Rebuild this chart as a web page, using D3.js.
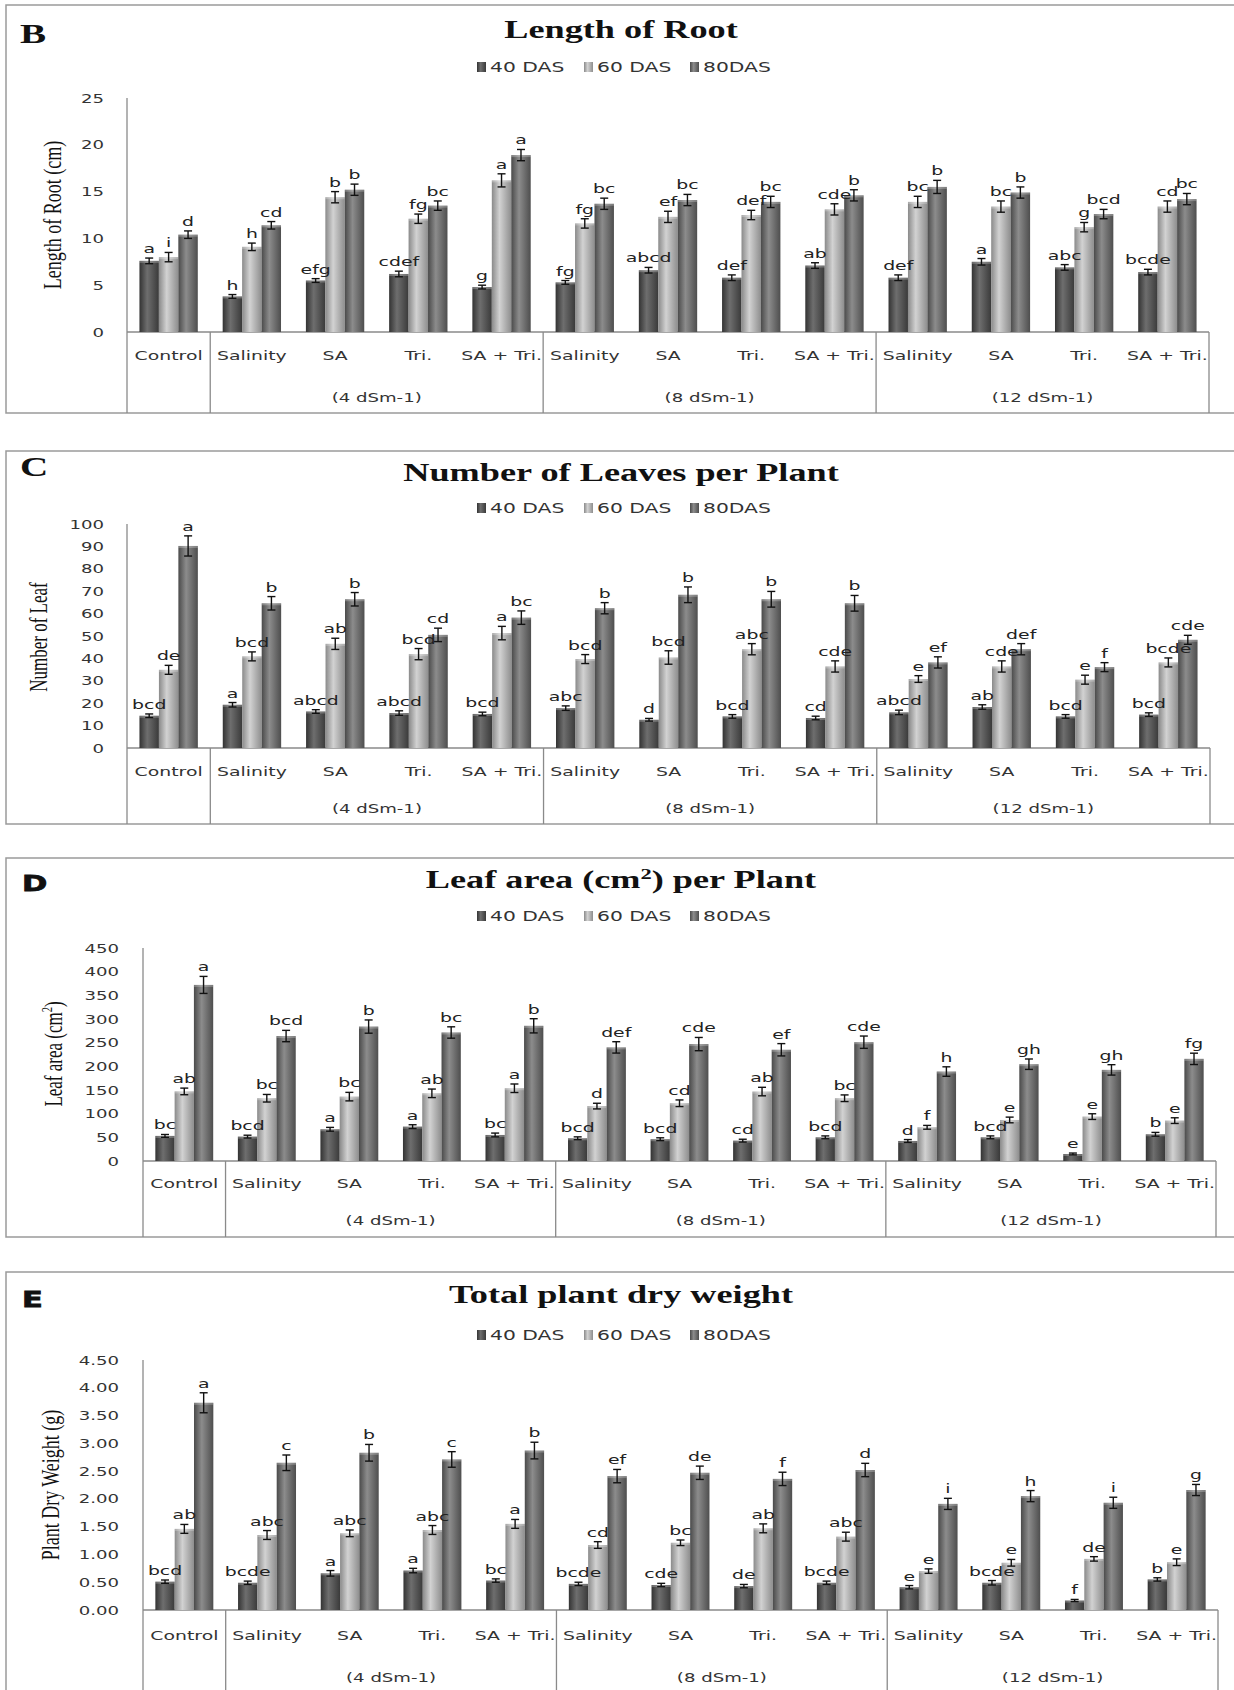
<!DOCTYPE html>
<html>
<head>
<meta charset="utf-8">
<script src="https://cdn.jsdelivr.net/npm/d3@7"></script>
<style>
  body { margin: 0; background: #fff; }
</style>
</head>
<body>
<div id="chart"></div>
<script>
// ---- data ----
const categories = ['Control', 'Salinity', 'SA', 'Tri.', 'SA + Tri.', 'Salinity', 'SA', 'Tri.', 'SA + Tri.', 'Salinity', 'SA', 'Tri.', 'SA + Tri.'];
const groupLabels = ['', '(4 dSm-1)', '(8 dSm-1)', '(12 dSm-1)'];
const groupSizes = [1, 4, 4, 4];
const seriesNames = ['40 DAS', '60 DAS', '80DAS'];

// B - length of root (cm)
const root40 = [7.6, 3.8, 5.5, 6.2, 4.8, 5.3, 6.6, 5.8, 7.1, 5.8, 7.5, 6.9, 6.4];
const root60 = [8.0, 9.1, 14.4, 12.1, 16.2, 11.6, 12.3, 12.5, 13.1, 13.9, 13.4, 11.2, 13.4];
const root80 = [10.4, 11.4, 15.2, 13.5, 18.9, 13.7, 14.1, 13.9, 14.6, 15.5, 14.9, 12.6, 14.2];
const rootErr40 = [0.3, 0.2, 0.2, 0.3, 0.2, 0.2, 0.3, 0.3, 0.3, 0.3, 0.35, 0.3, 0.3];
const rootErr60 = [0.5, 0.4, 0.6, 0.5, 0.7, 0.5, 0.6, 0.5, 0.6, 0.6, 0.6, 0.5, 0.6];
const rootErr80 = [0.4, 0.4, 0.6, 0.5, 0.6, 0.6, 0.6, 0.6, 0.6, 0.7, 0.6, 0.5, 0.6];
const rootLet40 = ['a', 'h', 'efg', 'cdef', 'g', 'fg', 'abcd', 'def', 'ab', 'def', 'a', 'abc', 'bcde'];
const rootLet60 = ['i', 'h', 'b', 'fg', 'a', 'fg', 'ef', 'def', 'cde', 'bc', 'bc', 'g', 'cd'];
const rootLet80 = ['d', 'cd', 'b', 'bc', 'a', 'bc', 'bc', 'bc', 'b', 'b', 'b', 'bcd', 'bc'];

// C - number of leaves per plant
const leaf40 = [14.4, 19.3, 16.3, 15.6, 15.2, 17.8, 12.6, 14.1, 13.4, 15.9, 18.3, 14.1, 14.9];
const leaf60 = [34.9, 40.9, 46.5, 41.9, 51.3, 39.7, 40.4, 44.1, 36.4, 30.8, 36.4, 30.5, 38.2];
const leaf80 = [90.2, 64.6, 66.4, 50.5, 58.2, 62.4, 68.4, 66.4, 64.6, 38.2, 44.1, 36.1, 48.3];
const leafErr40 = [0.8, 1, 0.8, 1, 0.8, 1, 0.6, 0.8, 0.8, 1, 1, 0.8, 0.8];
const leafErr60 = [2, 2, 2.5, 2.5, 3, 2, 3, 2.5, 2.5, 1.5, 2.5, 2, 2];
const leafErr80 = [4.5, 3, 3, 3, 3, 2.5, 3.5, 3.5, 3.5, 2.5, 2.5, 2, 2];
const leafLet40 = ['bcd', 'a', 'abcd', 'abcd', 'bcd', 'abc', 'd', 'bcd', 'cd', 'abcd', 'ab', 'bcd', 'bcd'];
const leafLet60 = ['de', 'bcd', 'ab', 'bcd', 'a', 'bcd', 'bcd', 'abc', 'cde', 'e', 'cde', 'e', 'bcde'];
const leafLet80 = ['a', 'b', 'b', 'cd', 'bc', 'b', 'b', 'b', 'b', 'ef', 'def', 'f', 'cde'];

// D - leaf area (cm2) per plant
const area40 = [53, 51.5, 67, 72.6, 55, 48, 46, 43, 50, 42.3, 50, 14.8, 56.4];
const area60 = [147, 132.6, 136, 143, 153.7, 116, 122, 146.7, 132.6, 71.2, 86.7, 93.8, 85.3];
const area80 = [372, 264, 284, 271.5, 285.6, 240, 247, 235, 251, 189, 204.5, 192.5, 215.8];
const areaErr40 = [3, 3, 4, 4, 4, 3, 3, 3, 3, 3, 3, 2, 4];
const areaErr60 = [7, 8, 9, 9, 9, 6, 7, 9, 7, 4, 6, 6, 6];
const areaErr80 = [18, 12, 14, 12, 15, 12, 14, 13, 13, 10, 11, 11, 12];
const areaLet40 = ['bc', 'bcd', 'a', 'a', 'bc', 'bcd', 'bcd', 'cd', 'bcd', 'd', 'bcd', 'e', 'b'];
const areaLet60 = ['ab', 'bc', 'bc', 'ab', 'a', 'd', 'cd', 'ab', 'bc', 'f', 'e', 'e', 'e'];
const areaLet80 = ['a', 'bcd', 'b', 'bc', 'b', 'def', 'cde', 'ef', 'cde', 'h', 'gh', 'gh', 'fg'];

// E - total plant dry weight (g)
const dry40 = [0.51, 0.49, 0.66, 0.71, 0.53, 0.47, 0.45, 0.43, 0.49, 0.41, 0.49, 0.17, 0.55];
const dry60 = [1.46, 1.35, 1.38, 1.44, 1.55, 1.17, 1.21, 1.47, 1.32, 0.70, 0.85, 0.92, 0.86];
const dry80 = [3.73, 2.65, 2.83, 2.71, 2.87, 2.41, 2.47, 2.36, 2.52, 1.91, 2.05, 1.93, 2.16];
const dryErr40 = [0.03, 0.03, 0.05, 0.04, 0.03, 0.03, 0.03, 0.03, 0.03, 0.03, 0.04, 0.02, 0.03];
const dryErr60 = [0.08, 0.08, 0.06, 0.08, 0.08, 0.06, 0.05, 0.08, 0.08, 0.04, 0.06, 0.04, 0.06];
const dryErr80 = [0.18, 0.14, 0.15, 0.14, 0.15, 0.12, 0.12, 0.12, 0.12, 0.1, 0.1, 0.1, 0.1];
const dryLet40 = ['bcd', 'bcde', 'a', 'a', 'bc', 'bcde', 'cde', 'de', 'bcde', 'e', 'bcde', 'f', 'b'];
const dryLet60 = ['ab', 'abc', 'abc', 'abc', 'a', 'cd', 'bc', 'ab', 'abc', 'e', 'e', 'de', 'e'];
const dryLet80 = ['a', 'c', 'b', 'c', 'b', 'ef', 'de', 'f', 'd', 'i', 'h', 'i', 'g'];

// ---- layout ----
const W = 1234, H = 1690;
const SX = 1.45; // the source figure is stretched horizontally
const SANS = 'DejaVu Sans, Verdana, sans-serif';
const SERIF = 'Liberation Serif, Times New Roman, serif';

const panels = [
  { letter: 'B', letterFont: SERIF, title: [['Length of Root']], yLabel: [['Length of Root (cm)']],
    values: [root40, root60, root80], errors: [rootErr40, rootErr60, rootErr80], letters: [rootLet40, rootLet60, rootLet80],
    yMax: 25, yStep: 5, fmt: d3.format('d'),
    top: 5, bottom: 413, letterY: 43, titleY: 38, legendY: 67, yTop: 98, yBase: 332, x0: 127, x1: 1209,
    tickX: 104, catY: 360, groupY: 402, yLabelX: 52, yLabelY: 215, yLabelSize: 18 },
  { letter: 'C', letterFont: SERIF, title: [['Number of Leaves per Plant']], yLabel: [['Number of Leaf']],
    values: [leaf40, leaf60, leaf80], errors: [leafErr40, leafErr60, leafErr80], letters: [leafLet40, leafLet60, leafLet80],
    yMax: 100, yStep: 10, fmt: d3.format('d'),
    top: 451, bottom: 824, letterY: 476, titleY: 481, legendY: 508, yTop: 524, yBase: 748, x0: 127, x1: 1210,
    tickX: 104, catY: 776, groupY: 813, yLabelX: 38, yLabelY: 637, yLabelSize: 17 },
  { letter: 'D', letterFont: SANS, title: [['Leaf area (cm'], ['2', true], [') per Plant']], yLabel: [['Leaf area (cm'], ['2', true], [')']],
    values: [area40, area60, area80], errors: [areaErr40, areaErr60, areaErr80], letters: [areaLet40, areaLet60, areaLet80],
    yMax: 450, yStep: 50, fmt: d3.format('d'),
    top: 858, bottom: 1237, letterY: 891, titleY: 888, legendY: 916, yTop: 948, yBase: 1161, x0: 143, x1: 1216,
    tickX: 119, catY: 1188, groupY: 1225, yLabelX: 53, yLabelY: 1054, yLabelSize: 17 },
  { letter: 'E', letterFont: SANS, title: [['Total plant dry weight']], yLabel: [['Plant Dry Weight (g)']],
    values: [dry40, dry60, dry80], errors: [dryErr40, dryErr60, dryErr80], letters: [dryLet40, dryLet60, dryLet80],
    yMax: 4.5, yStep: 0.5, fmt: d3.format('.2f'),
    top: 1272, bottom: 1700, letterY: 1307, titleY: 1303, legendY: 1335, yTop: 1360, yBase: 1610, x0: 143, x1: 1218,
    tickX: 119, catY: 1640, groupY: 1682, yLabelX: 50, yLabelY: 1485, yLabelSize: 18 }
];

const legendX = [477, 584, 690];

const svg = d3.select('#chart').append('svg')
  .attr('width', W).attr('height', H)
  .attr('viewBox', `0 0 ${W} ${H}`);

// cylinder-like shading of the bars
const shades = [
  ['#333333', '#6e6e6e', '#3a3a3a'],
  ['#8a8a8a', '#d2d2d2', '#8e8e8e'],
  ['#4a4a4a', '#8c8c8c', '#4e4e4e']
];
const defs = svg.append('defs');
shades.forEach((s, i) => {
  const g = defs.append('linearGradient').attr('id', 'shade' + i)
    .attr('x1', 0).attr('x2', 1).attr('y1', 0).attr('y2', 0);
  g.append('stop').attr('offset', '0%').attr('stop-color', s[0]);
  g.append('stop').attr('offset', '40%').attr('stop-color', s[1]);
  g.append('stop').attr('offset', '100%').attr('stop-color', s[2]);
});

// text that is stretched horizontally like the source image
function stext(sel, x, y, size, family, anchor) {
  return sel.append('text')
    .attr('transform', `translate(${x},${y}) scale(${SX},1)`)
    .attr('font-size', size)
    .attr('font-family', family)
    .attr('text-anchor', anchor || 'start');
}

function addRuns(t, runs, size) {
  runs.forEach(([s, sup]) => {
    if (sup) {
      t.append('tspan').attr('font-size', size * 0.62).attr('dy', -size * 0.38).text(s);
    } else {
      const ts = t.append('tspan').text(s);
      if (t.node().childNodes.length > 1) ts.attr('dy', size * 0.38);
    }
  });
}

panels.forEach(p => {
  const g = svg.append('g');

  // panel frame (runs past the right edge)
  g.append('rect')
    .attr('x', 6).attr('y', p.top)
    .attr('width', W + 20).attr('height', p.bottom - p.top)
    .attr('fill', '#fff').attr('stroke', '#9a9a9a').attr('stroke-width', 1.5);

  // panel letter
  if (p.letterFont === SERIF) {
    stext(g, 20, p.letterY, 27, SERIF).attr('font-weight', 'bold').attr('fill', '#111').text(p.letter);
  } else {
    stext(g, 22, p.letterY, 21, SANS).attr('font-weight', 900).attr('fill', '#111')
      .attr('stroke', '#111').attr('stroke-width', 0.8).text(p.letter);
  }

  // title
  const t = stext(g, 621, p.titleY, 25, SERIF, 'middle').attr('font-weight', 'bold').attr('fill', '#111');
  addRuns(t, p.title, 25);

  // legend
  seriesNames.forEach((name, i) => {
    g.append('rect')
      .attr('x', legendX[i]).attr('y', p.legendY - 5)
      .attr('width', 9).attr('height', 10)
      .attr('fill', `url(#shade${i})`);
    stext(g, legendX[i] + 13, p.legendY + 5, 14, SANS).attr('fill', '#333').text(name);
  });

  // scales
  const y = d3.scaleLinear().domain([0, p.yMax]).range([p.yBase, p.yTop]);
  const x = d3.scaleBand().domain(d3.range(categories.length)).range([p.x0, p.x1]);
  const xs = d3.scaleBand().domain(d3.range(seriesNames.length)).range([0, x.bandwidth()]).paddingOuter(0.64);

  // y tick labels
  const ticks = d3.range(0, p.yMax + p.yStep / 2, p.yStep);
  ticks.forEach(v => {
    stext(g, p.tickX, y(v) + 4.5, 12.5, SANS, 'end').attr('fill', '#333').text(p.fmt(v));
  });

  // y axis title
  const yl = g.append('text')
    .attr('transform', `translate(${p.yLabelX},${p.yLabelY}) scale(${SX},1) rotate(-90)`)
    .attr('font-family', SERIF).attr('font-size', p.yLabelSize)
    .attr('text-anchor', 'middle').attr('dy', '0.35em').attr('fill', '#111');
  addRuns(yl, p.yLabel, p.yLabelSize);

  // category table lines
  const lineCol = '#8a8a8a';
  g.append('line')
    .attr('x1', p.x0).attr('x2', p.x1).attr('y1', p.yBase).attr('y2', p.yBase)
    .attr('stroke', lineCol).attr('stroke-width', 1.3);
  g.append('line')
    .attr('x1', p.x0).attr('x2', p.x0).attr('y1', p.yTop).attr('y2', p.bottom)
    .attr('stroke', lineCol).attr('stroke-width', 1.3);
  let idx = 0;
  groupSizes.forEach((n, gi) => {
    const start = x(idx);
    idx += n;
    const end = idx < categories.length ? x(idx) : p.x1;
    g.append('line')
      .attr('x1', end).attr('x2', end).attr('y1', p.yBase).attr('y2', p.bottom)
      .attr('stroke', lineCol).attr('stroke-width', 1.3);
    if (groupLabels[gi]) {
      stext(g, (start + end) / 2, p.groupY, 12.5, SANS, 'middle').attr('fill', '#333').text(groupLabels[gi]);
    }
  });

  categories.forEach((c, i) => {
    stext(g, x(i) + x.bandwidth() / 2, p.catY, 13, SANS, 'middle').attr('fill', '#333').text(c);
  });

  // bars first, then error bars, then letters on top of everything
  const barLayer = g.append('g');
  const errLayer = g.append('g').attr('stroke', '#111').attr('stroke-width', 1.4);
  const letLayer = g.append('g');
  p.values.forEach((vals, si) => {
    vals.forEach((v, i) => {
      const bx = x(i) + xs(si);
      const bw = xs.bandwidth();
      const cx = bx + bw / 2;
      const e = p.errors[si][i];
      barLayer.append('rect')
        .attr('x', bx).attr('y', y(v))
        .attr('width', bw).attr('height', y(0) - y(v))
        .attr('fill', `url(#shade${si})`);
      // lighter cap at the top of the bar
      barLayer.append('rect')
        .attr('x', bx).attr('y', y(v))
        .attr('width', bw).attr('height', 2)
        .attr('fill', '#fff').attr('opacity', 0.25);
      errLayer.append('line').attr('x1', cx).attr('x2', cx).attr('y1', y(v - e)).attr('y2', y(v + e));
      errLayer.append('line').attr('x1', cx - 4).attr('x2', cx + 4).attr('y1', y(v - e)).attr('y2', y(v - e));
      errLayer.append('line').attr('x1', cx - 4).attr('x2', cx + 4).attr('y1', y(v + e)).attr('y2', y(v + e));
      stext(letLayer, cx, y(v + e) - 5, 13, SANS, 'middle').attr('fill', '#222').text(p.letters[si][i]);
    });
  });
});
</script>
</body>
</html>
